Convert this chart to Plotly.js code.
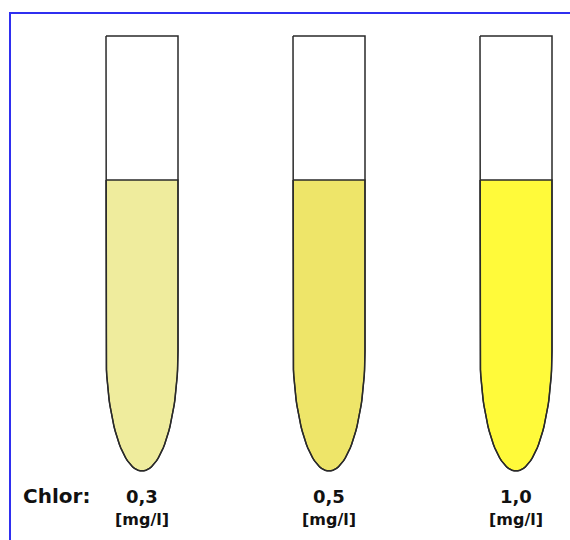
<!DOCTYPE html>
<html>
<head>
<meta charset="utf-8">
<script src="https://cdn.plot.ly/plotly-3.0.1.min.js"></script>
<style>html,body{margin:0;padding:0;background:#fff;}#chart{width:570px;height:540px;}</style>
</head>
<body>
<div id="chart"></div>
<script>
// ---- data ----
var concentrations = ['0,3', '0,5', '1,0'];
var unitLabel = '[mg/l]';
var seriesLabel = 'Chlor:';
var liquidColors = ['#EFEC9D', '#EEE569', '#FFFA3A'];

// ---- geometry (styles / layout) ----
var W = 570, H = 540;
var pxPerUnit = 187, firstCenterPx = 142;
var halfW = 36 / pxPerUnit;          // tube half width in x units
var yTop = 540 - 36;                 // tube open top
var yLevel = 540 - 180;              // liquid level
var yBend = 540 - 351;               // start of rounded bottom
var depth = 120;                     // depth of rounded bottom

function tubePath(cx, top) {
  var xs = [cx - halfW], ys = [top];
  xs.push(cx - halfW); ys.push(yBend);
  var n = 60;
  for (var i = 0; i <= n; i++) {
    var t = Math.PI + Math.PI * i / n;
    xs.push(cx + halfW * Math.cos(t));
    ys.push(yBend + depth * Math.sin(t));
  }
  xs.push(cx + halfW); ys.push(top);
  xs.push(cx - halfW); ys.push(top);
  return {x: xs, y: ys};
}

var traces = [];
concentrations.forEach(function (c, i) {
  var liq = tubePath(i, yLevel);
  traces.push({x: liq.x, y: liq.y, mode: 'lines', fill: 'toself',
    fillcolor: liquidColors[i], line: {color: '#2a2a2a', width: 1.3},
    hoverinfo: 'skip', showlegend: false});
  var tube = tubePath(i, yTop);
  traces.push({x: tube.x, y: tube.y, mode: 'lines',
    line: {color: '#2a2a2a', width: 1.5}, hoverinfo: 'skip', showlegend: false});
});

var annotations = [];
concentrations.forEach(function (c, i) {
  annotations.push({x: i, y: 540 - 496, xref: 'x', yref: 'y', text: '<b>' + c + '</b>',
    showarrow: false, font: {family: 'DejaVu Sans, sans-serif', size: 18, color: '#111'},
    xanchor: 'center', yanchor: 'middle'});
  annotations.push({x: i, y: 540 - 519, xref: 'x', yref: 'y', text: '<b>' + unitLabel + '</b>',
    showarrow: false, font: {family: 'DejaVu Sans, sans-serif', size: 16, color: '#111'},
    xanchor: 'center', yanchor: 'middle'});
});
annotations.push({x: 21 / W, y: 1 - 496 / H, xref: 'paper', yref: 'paper', text: '<b>' + seriesLabel + '</b>',
  showarrow: false, font: {family: 'DejaVu Sans, sans-serif', size: 20, color: '#111'},
  xanchor: 'left', yanchor: 'middle'});

var layout = {
  width: W, height: H,
  margin: {l: 0, r: 0, t: 0, b: 0},
  paper_bgcolor: '#fff', plot_bgcolor: '#fff',
  xaxis: {range: [-firstCenterPx / pxPerUnit, (W - firstCenterPx) / pxPerUnit], visible: false, fixedrange: true},
  yaxis: {range: [0, H], visible: false, fixedrange: true},
  showlegend: false,
  annotations: annotations,
  shapes: [{type: 'rect', xref: 'paper', yref: 'paper', x0: 10 / W, x1: 1.05, y0: -0.05, y1: 1 - 13 / H,
    line: {color: '#2F2FF0', width: 2}}]
};

Plotly.newPlot('chart', traces, layout, {staticPlot: true, displayModeBar: false});
</script>
</body>
</html>
